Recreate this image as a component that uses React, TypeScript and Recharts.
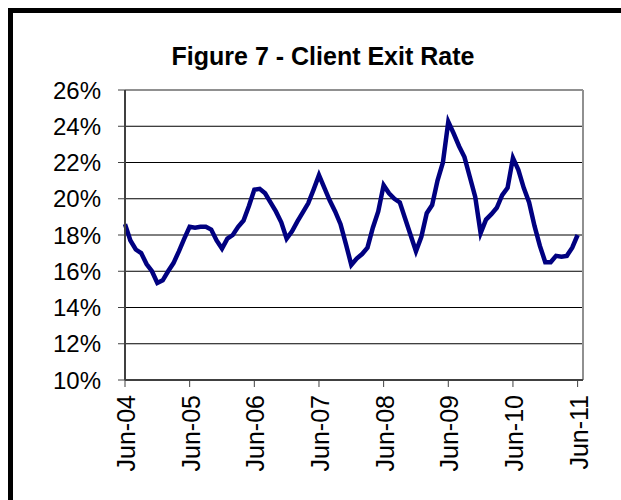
import * as React from 'react';
import { LineChart, Line, CartesianGrid, XAxis, YAxis, ReferenceLine } from 'recharts';

// monthly client exit rate (%), Jun-04 .. Jun-11
const exitRate = [
  18.6, 17.7, 17.2, 17.0, 16.4, 16.0, 15.35, 15.5, 16.0, 16.45, 17.1, 17.8,
  18.45, 18.4, 18.45, 18.45, 18.3, 17.7, 17.25, 17.8, 18.0, 18.45, 18.8, 19.6,
  20.5, 20.55, 20.3, 19.8, 19.3, 18.7, 17.8, 18.2, 18.75, 19.25, 19.75, 20.5,
  21.3, 20.6, 19.9, 19.3, 18.6, 17.5, 16.35, 16.7, 16.95, 17.3, 18.4, 19.3,
  20.75, 20.3, 20.0, 19.8, 18.9, 18.0, 17.1, 17.9, 19.2, 19.65, 21.0, 22.0,
  24.25, 23.6, 22.9, 22.3, 21.2, 20.1, 18.1, 18.85, 19.15, 19.5, 20.2, 20.6,
  22.25, 21.6, 20.6, 19.8, 18.5, 17.4, 16.5, 16.5, 16.85, 16.8, 16.85, 17.3,
  18.0,
];

const tickLabels = ['Jun-04', 'Jun-05', 'Jun-06', 'Jun-07', 'Jun-08', 'Jun-09', 'Jun-10', 'Jun-11'];
const xTicks = tickLabels.map((_, i) => i * 12);
const yTicks = [10, 12, 14, 16, 18, 20, 22, 24, 26];

const data = exitRate.map((v, i) => ({ idx: i, rate: v }));

const FONT = 'Arial, "Liberation Sans", sans-serif';

const XTick = (props: any) => {
  const { x, y, payload } = props;
  return (
    <text
      x={x + 1}
      y={y + 6}
      transform={`rotate(-90, ${x + 1}, ${y + 6})`}
      textAnchor="end"
      dominantBaseline="central"
      fontSize={25}
      fontFamily={FONT}
      fill="#000"
    >
      {tickLabels[payload.value / 12]}
    </text>
  );
};

export default function App() {
  return (
    <div style={{ position: 'absolute', left: 0, top: 0, width: 621, height: 500, overflow: 'hidden', background: '#fff' }}>
      <div
        style={{
          position: 'absolute',
          left: 8,
          top: 8,
          width: 700,
          height: 600,
          borderLeft: '5px solid #000',
          borderTop: '5px solid #000',
        }}
      />
      <div style={{ position: 'absolute', left: 0, top: 0 }}>
        <LineChart width={621} height={500} data={data} margin={{ top: 90, right: 38, left: 0, bottom: 0 }}>
          <text x={323} y={56} textAnchor="middle" dominantBaseline="central" fontSize={25} fontWeight="bold" fontFamily={FONT} fill="#000">
            Figure 7 - Client Exit Rate
          </text>
          <CartesianGrid vertical={false} stroke="#000" strokeWidth={1} />
          <XAxis
            dataKey="idx"
            type="number"
            domain={[0, 85]}
            ticks={xTicks}
            interval={0}
            height={120}
            tick={<XTick />}
            tickSize={7}
            axisLine={{ stroke: '#404040', strokeWidth: 2 }}
            tickLine={{ stroke: '#404040', strokeWidth: 1 }}
          />
          <YAxis
            domain={[10, 26]}
            ticks={yTicks}
            interval={0}
            width={125}
            tickFormatter={(v: number) => `${v}%`}
            tickSize={7}
            tickMargin={17}
            tick={{ fontSize: 24, fontFamily: FONT, fill: '#000' }}
            axisLine={{ stroke: '#404040', strokeWidth: 2 }}
            tickLine={{ stroke: '#404040', strokeWidth: 1 }}
          />
          <ReferenceLine y={26} stroke="#909090" strokeWidth={2} />
          <ReferenceLine x={85} stroke="#909090" strokeWidth={2} />
          <Line
            type="linear"
            dataKey="rate"
            stroke="#000080"
            strokeWidth={4.5}
            dot={false}
            isAnimationActive={false}
          />
        </LineChart>
      </div>
    </div>
  );
}
